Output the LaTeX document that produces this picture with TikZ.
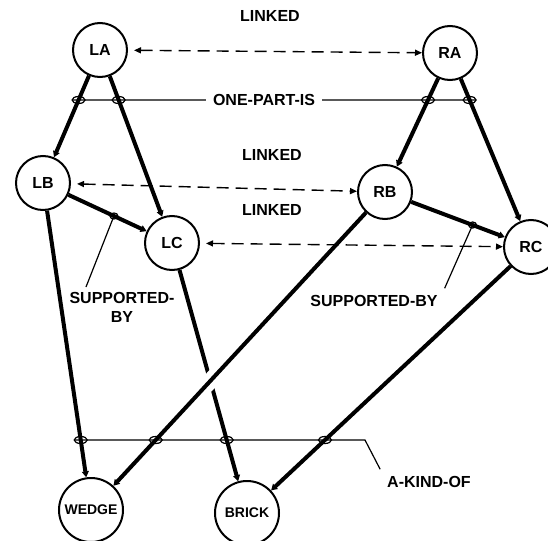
\documentclass[tikz,border=0pt]{standalone}
\usepackage{fontspec}
\setmainfont{Liberation Sans}
\usetikzlibrary{arrows.meta,calc,intersections}
\tikzset{every node/.style={font=\fontsize{8}{9.5}\selectfont\bfseries}}
\tikzset{
  concept/.style={circle, draw, line width=1pt, minimum size=27pt, inner sep=0pt},
  object/.style={concept, minimum size=32pt, font=\fontsize{7}{8}\selectfont\bfseries},
  edge/.style={-{Triangle[length=3pt,width=3.4pt]}, line width=2pt},
  linked/.style={{Triangle[length=3.5pt,width=3pt]}-{Triangle[length=3.5pt,width=3pt]},
    line width=0.7pt, dash pattern=on 6pt off 3.5pt, shorten <=3pt},
  relline/.style={line width=0.6pt},
  ring/.style={line width=0.6pt},
  gapcut/.style={white, line width=8pt},
}

\begin{document}
\begin{tikzpicture}[x=0.5pt, y=-0.5pt]

  \useasboundingbox (0,0) rectangle (548,541);

  % Concept nodes.
  \node[concept] (LA) at (100,50) {LA};
  \node[concept] (RA) at (450,53) {RA};
  \node[concept] (LB) at (43,183) {LB};
  \node[concept] (RB) at (385,192) {RB};
  \node[concept] (LC) at (172,243) {LC};
  \node[concept] (RC) at (531,247) {RC};
  \node[object] (WEDGE) at (91,510) {WEDGE};
  \node[object] (BRICK) at (247,513) {BRICK};

  % Part edges.
  \draw[edge, name path=eLALB] (LA) -- (LB);
  \draw[edge, name path=eLALC] (LA) -- (LC);
  \draw[edge, name path=eRARB] (RA) -- (RB);
  \draw[edge, name path=eRARC] (RA) -- (RC);
  \draw[edge, name path=eLBLC] (LB) -- (LC);
  \draw[edge, name path=eRBRC] (RB) -- (RC);

  % Kind edges.
  \draw[edge, name path=eLBWEDGE] (LB) -- (WEDGE);
  \draw[edge, name path=eLCBRICK] (LC) -- (BRICK);
  \draw[edge, name path=eRCBRICK] (RC) -- (BRICK);

  % RB--WEDGE passes over LC--BRICK.
  \path[name path=eRBWEDGE] (RB) -- (WEDGE);
  \path[name intersections={of=eLCBRICK and eRBWEDGE, by=X}];
  \draw[gapcut] ($(X)!6pt!(RB)$) -- ($(X)!6pt!(WEDGE)$);
  \draw[edge] (RB) -- (WEDGE);

  % Linked pairs.
  \node (lk1) at (270,16) {LINKED};
  \node (lk2) at (272,155) {LINKED};
  \node (lk3) at (272,210) {LINKED};
  \draw[linked] (LA) -- (RA);
  \draw[linked] (LB) -- (RB);
  \draw[linked] (LC) -- (RC);

  % One-part-is.
  \path[name path=hPart] (0,100) -- (548,100);
  \path[name intersections={of=eLALB and hPart, by=p1}];
  \path[name intersections={of=eLALC and hPart, by=p2}];
  \path[name intersections={of=eRARB and hPart, by=p3}];
  \path[name intersections={of=eRARC and hPart, by=p4}];
  \node (onepart) at (264,100) {ONE-PART-IS};
  \draw[relline] ($(p1)+(-6.5,0)$) -- (onepart);
  \draw[relline] (onepart) -- ($(p4)+(6.5,0)$);
  \foreach \p in {p1,p2,p3,p4}
    \draw[ring] (\p) ellipse [x radius=6.5, y radius=3.5];

  % Supported-by.
  \coordinate (s1) at ($(LB)!0.55!(LC)$);
  \coordinate (s2) at ($(RB)!0.6!(RC)$);
  \node[align=center] (supL) at (122,307) {SUPPORTED-\\BY};
  \node (supR) at (374,301) {SUPPORTED-BY};
  \coordinate (supLend) at (86,287);
  \draw[relline] (s1) -- (supLend);
  \draw[relline] (s2) -- (supR.north east);
  \draw[ring] (s1) ellipse [x radius=4, y radius=3];
  \draw[ring] (s2) ellipse [x radius=4, y radius=3];

  % A-kind-of.
  \path[name path=hKind] (0,440) -- (548,440);
  \path[name intersections={of=eLBWEDGE and hKind, by=k1}];
  \path[name intersections={of=eRBWEDGE and hKind, by=k2}];
  \path[name intersections={of=eLCBRICK and hKind, by=k3}];
  \path[name intersections={of=eRCBRICK and hKind, by=k4}];
  \node (akind) at (429,482) {A-KIND-OF};
  \coordinate (kbend) at (365,440);
  \draw[relline] ($(k1)+(-6.5,0)$) -- (kbend) -- (akind.north west);
  \foreach \k in {k1,k2,k3,k4}
    \draw[ring] (\k) ellipse [x radius=6.5, y radius=3.5];

\end{tikzpicture}
\end{document}
